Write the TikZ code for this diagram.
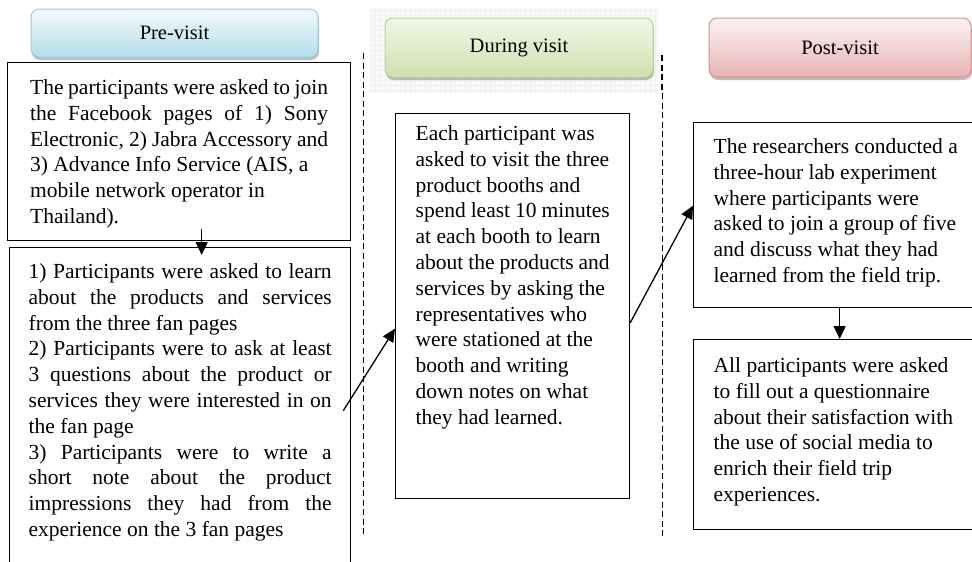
\documentclass[tikz,border=0pt]{standalone}
\usepackage{fontspec}
\setmainfont{Liberation Serif}
\usetikzlibrary{arrows.meta,shadows}

\definecolor{preTop}{HTML}{F3FAFC}
\definecolor{preBot}{HTML}{B4DEEA}
\definecolor{preLine}{HTML}{98CCDB}
\definecolor{durTop}{HTML}{F1F6E8}
\definecolor{durBot}{HTML}{CFE1AE}
\definecolor{durLine}{HTML}{BFD596}
\definecolor{postTop}{HTML}{FDF4F4}
\definecolor{postBot}{HTML}{E6B3B2}
\definecolor{postLine}{HTML}{D8918F}

\begin{document}
\begin{tikzpicture}[x=1pt, y=-1pt,
  phase/.style={rounded corners=8pt, draw=#1Line, top color=#1Top, bottom color=#1Bot,
    line width=1pt, font=\fontsize{20.5}{24}\selectfont,
    drop shadow={shadow xshift=1pt, shadow yshift=-3pt, opacity=0.25, fill=black}},
  stepbox/.style={draw, line width=1.3pt, anchor=north west,
    font=\fontsize{21.5}{25.8}\selectfont},
  flow/.style={-{Triangle[width=12pt,length=13pt]}, line width=1.3pt},
  divider/.style={dashed, dash pattern=on 6pt off 3.5pt, line width=1pt}]

  \useasboundingbox (0,0) rectangle (972,562);

  % -- Grid behind the middle header --
  \fill[gray!5] (370,8) rectangle (658,93);
  \draw[gray!12, line width=0.4pt, step=5pt] (370,8) grid (658,93);

  % -- Phase headers --
  \node[phase=pre, minimum width=287pt, minimum height=48pt] (pre) at (174.5,33) {Pre-visit};
  \node[phase=dur, minimum width=268pt, minimum height=59pt] (during) at (519,47.5) {During visit};
  \node[phase=post, minimum width=262pt, minimum height=59pt] (post) at (840,47.5) {Post-visit};

  % -- Column dividers --
  \draw[divider] (363,53) -- (363,537);
  \draw[divider] (662,55) -- (662,537);
  \draw[divider, line width=2.2pt] (662,55) -- (662,92);

  % -- Pre-visit steps --
  \node[stepbox, inner xsep=22.5pt, inner ysep=17pt] (join) at (7,62)
    {\parbox[c][144pt][t]{298pt}{The participants were asked to join\linebreak
     the Facebook pages of 1) Sony\linebreak
     Electronic, 2) Jabra Accessory and\linebreak
     3) Advance Info Service (AIS, a\\
     mobile network operator in\\
     Thailand).}};
  \node[stepbox, inner xsep=19pt, inner ysep=16pt] (fanpage) at (9,247)
    {\parbox[c][301pt][t]{303pt}{1) Participants were asked to learn\linebreak
     about the products and services\linebreak
     from the three fan pages\\
     2) Participants were to ask at least\linebreak
     3 questions about the product or\linebreak
     services they were interested in on\linebreak
     the fan page\\
     3) Participants were to write a\linebreak
     short note about the product\linebreak
     impressions they had from the\linebreak
     experience on the 3 fan pages}};

  % -- During visit step --
  \node[stepbox, inner xsep=20pt, inner ysep=12pt] (booth) at (395,113)
    {\parbox[c][361pt][t]{194pt}{\raggedright Each participant was\\
     asked to visit the three\\
     product booths and\\
     spend least 10 minutes\\
     at each booth to learn\\
     about the products and\\
     services by asking the\\
     representatives who\\
     were stationed at the\\
     booth and writing\\
     down notes on what\\
     they had learned.}};

  % -- Post-visit steps --
  \node[stepbox, inner xsep=20pt, inner ysep=16pt] (lab) at (693,122)
    {\parbox[c][153pt][t]{252pt}{\raggedright The researchers conducted a\\
     three-hour lab experiment\\
     where participants were\\
     asked to join a group of five\\
     and discuss what they had\\
     learned from the field trip.}};
  \node[stepbox, inner xsep=20pt, inner ysep=18pt] (survey) at (693,339)
    {\parbox[c][154pt][t]{252pt}{\raggedright All participants were asked\\
     to fill out a questionnaire\\
     about their satisfaction with\\
     the use of social media to\\
     enrich their field trip\\
     experiences.}};

  % -- Flow arrows --
  \draw[flow] ([xshift=22.5pt,yshift=12pt]join.south) -- ([xshift=21.5pt,yshift=-8pt]fanpage.north);
  \draw[flow] ([xshift=-8pt,yshift=3.5pt]fanpage.east) -- ([yshift=-22.5pt]booth.west);
  \draw[flow] ([yshift=-16.5pt]booth.east) -- ([yshift=9.5pt]lab.west);
  \draw[flow] (lab.south) -- (survey.north);

\end{tikzpicture}
\end{document}
